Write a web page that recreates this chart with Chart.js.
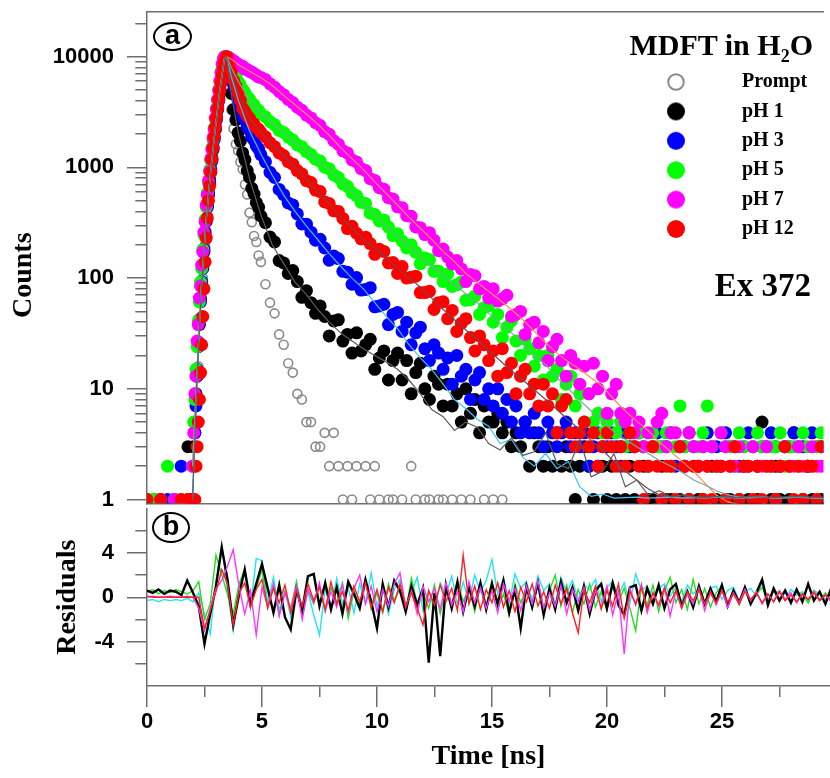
<!DOCTYPE html>
<html><head><meta charset="utf-8">
<script src="https://cdn.jsdelivr.net/npm/chart.js@4.4.1/dist/chart.umd.min.js"></script>
<style>
html,body{margin:0;padding:0;background:#fff;}
#wrap{position:relative;width:830px;height:778px;overflow:hidden;background:#fff;}
#wrap canvas{position:absolute;left:0;}
.tag{position:absolute;box-sizing:border-box;border:2px solid #000;border-radius:50%;display:flex;align-items:center;justify-content:center;font:bold 27px "Liberation Sans",Arial,sans-serif;line-height:1;color:#000;padding-bottom:2px;}
.note{position:absolute;font-family:"Liberation Serif","Times New Roman",serif;font-weight:bold;color:#000;white-space:nowrap;}
.note sub{font-size:18px;vertical-align:-7px;line-height:0;}
</style></head><body>
<div id="wrap">
<canvas id="cTop" width="830" height="510" style="top:0px"></canvas>
<canvas id="cBot" width="830" height="278" style="top:500px"></canvas>
<div class="tag" style="left:153px;top:22px;width:39px;height:29px;">a</div>
<div class="tag" style="left:152px;top:512px;width:38px;height:31px;">b</div>
<div class="note" style="right:17px;top:30px;font-size:30px;line-height:30px;">MDFT in H<sub>2</sub>O</div>
<div class="note" style="right:19px;top:269px;font-size:33px;line-height:33px;">Ex 372</div>
</div>
<script>
// ---------- time grids ----------
const timeNs = [0,0.3,0.6,0.9,1.2,1.5,1.8,
 2.0,2.05,2.1,2.15,2.2,2.25,2.3,2.35,2.4,2.45,2.5,2.55,2.6,2.65,2.7,2.75,2.8,2.85,2.9,2.95,3.0,3.05,3.1,3.15,3.2,3.25,3.3,3.35,3.4,3.45,3.5,
 3.6,3.7,3.8,3.9,4.0,4.1,4.2,4.3,4.4,4.5,4.6,4.7,4.8,4.9,5.0,
 5.2,5.4,5.6,5.8,6.0,6.2,6.4,6.6,6.8,7.0,
 7.2,7.4,7.6,7.8,8.0,8.2,8.4,8.6,8.8,9.0,
 9.2,9.4,9.6,9.8,10.0,10.2,10.4,10.6,10.8,11.0,
 11.2,11.4,11.6,11.8,12.0,12.2,12.4,12.6,12.8,13.0,
 13.2,13.4,13.6,13.8,14.0,14.2,14.4,14.6,14.8,15.0,
 15.2,15.4,15.6,15.8,16.0,16.2,16.4,16.6,16.8,17.0,
 17.2,17.4,17.6,17.8,18.0,18.2,18.4,18.6,18.8,19.0,
 19.2,19.4,19.6,19.8,20.0,20.2,20.4,20.6,20.8,21.0,
 21.2,21.4,21.6,21.8,22.0,22.2,22.4,22.6,22.8,23.0,
 23.2,23.4,23.6,23.8,24.0,24.2,24.4,24.6,24.8,25.0,
 25.2,25.4,25.6,25.8,26.0,26.2,26.4,26.6,26.8,27.0,
 27.2,27.4,27.6,27.8,28.0,28.2,28.4,28.6,28.8,29.0,
 29.2,29.4,29.6];

// ---------- decay counts (0 = empty channel, not drawn on log axis) ----------
const countsPrompt = [0,0,0,0,0,0,0,
 0,1,2,5,9,16,27,44,66,100,140,200,270,370,480,630,800,1010,1270,1580,1960,2430,3000,3690,4500,5450,6550,7700,8800,9600,10000,
 6300,3300,2240,1620,1410,1120,960,700,570,390,320,240,212,160,140,
 88,60,48,31,25,17,14,9,8,5,
 5,3,3,4,2,4,2,1,2,1,
 2,0,2,1,2,1,0,1,1,0,
 1,0,2,1,0,1,1,0,1,1,
 0,1,0,1,0,1,0,0,1,0,
 1,0,1];
const countsPH1 = [1,0,1,0,1,0,3,
 1,3,4,9,13,26,38,65,86,130,172,258,325,458,565,760,915,1200,1450,1860,2200,2810,3330,4130,4950,6100,7150,8600,9500,10000,8500,
 6240,4650,3340,2690,2050,1730,1350,1170,935,812,648,575,480,436,364,
 316,235,212,144,137,110,117,93,67,77,
 60,48,56,45,30,41,42,27,31,21,
 32,22,25,28,15,19,22,12,18,21,
 12,18,9,14,17,10,8,13,11,7,
 11,7,9,5,10,6,8,4,7,5,
 5,6,4,5,3,4,3,5,2,4,
 3,2,3,2,4,2,3,2,1,2,
 3,2,1,2,2,1,2,1,3,1,
 2,1,0,2,1,1,0,2,1,1,
 0,1,2,1,0,1,1,0,2,1,
 0,1,1,0,1,2,1,0,1,5,
 0,1,2,1,0,1,4,0,1,2,
 1,0,1];
const countsPH3 = [1,1,0,1,1,2,1,
 1,2,4,7,15,24,42,61,93,122,183,242,340,436,590,720,955,1140,1510,1780,2280,2700,3450,4000,5080,5920,7310,8400,9600,10000,9150,
 7880,6690,5560,4850,4010,3520,2910,2670,2310,2170,1880,1760,1560,1470,1300,
 1122,903,810,632,567,477,458,380,308,307,
 260,220,224,187,145,158,150,115,113,88,
 101,78,79,82,55,56,58,38,47,49,
 33,40,25,32,36,23,18,25,21,15,
 19,11,20,13,15,8,12,14,8,10,
 7,10,6,8,5,7,4,5,4,6,
 4,3,5,4,3,4,5,3,4,3,
 4,2,3,4,3,3,4,3,2,4,
 3,3,4,3,2,3,4,3,3,4,
 2,3,3,4,3,2,3,4,3,3,
 2,4,3,3,2,3,4,3,2,3,
 3,4,3,2,3,3,4,3,3,2,
 4,3,3];
const countsPH5 = [1,1,1,2,1,1,1,
 2,5,8,15,24,41,61,92,122,181,245,338,438,587,727,948,1160,1500,1790,2260,2720,3420,4030,5060,5950,7300,8450,9600,10000,9920,9700,
 8840,8010,7180,6680,5960,5560,5070,4730,4310,4130,3750,3680,3340,3280,3050,
 2860,2590,2430,2160,2070,1880,1765,1600,1535,1390,
 1310,1185,1140,1005,972,855,810,711,674,590,
 555,483,472,385,376,328,335,289,242,251,
 216,187,200,171,135,152,147,115,115,93,
 109,84,87,92,63,64,69,47,54,56,
 40,47,29,36,41,27,20,28,23,16,
 20,12,20,13,15,8,11,13,7,9,
 5,9,5,6,4,5,3,4,5,3,
 4,3,4,3,2,4,3,3,4,2,
 3,7,3,4,2,3,4,7,3,2,
 4,3,3,2,4,3,2,3,4,3,
 2,3,3,4,2,3,3,2,4,3,
 2,3,4];
const countsPH7 = [0,0,1,0,1,0,1,
 2,4,9,13,27,38,66,85,131,172,259,322,459,563,757,918,1196,1455,1850,2200,2790,3350,4110,4960,6080,7180,8590,9480,9960,10000,9900,
 9810,9480,9190,8850,8560,8270,8190,7700,7650,7360,7290,7010,6820,6550,6490,
 6210,5690,5300,4850,4520,4110,3850,3500,3280,2970,
 2800,2530,2390,2100,1990,1740,1620,1410,1350,1170,
 1120,975,935,790,762,655,635,533,518,440,
 433,366,361,290,285,247,257,220,177,183,
 155,134,144,121,93,108,105,80,84,66,
 80,62,65,70,45,47,50,31,38,40,
 26,33,18,24,28,18,13,20,17,11,
 16,9,17,10,13,6,9,11,6,5,
 6,4,5,3,4,3,5,6,3,4,
 4,3,2,4,3,2,3,2,3,2,
 4,3,2,2,3,2,2,3,2,2,
 3,2,1,2,3,2,2,3,2,2,
 3,2,2];
const countsPH12 = [1,0,1,0,0,1,1,
 1,0,1,2,3,5,8,14,25,45,80,140,230,350,500,680,900,1180,1500,1880,2300,2800,3400,4100,4900,5800,6800,7800,8800,9600,10000,
 8450,7310,6100,5420,4620,4020,3430,3190,2920,2780,2540,2470,2270,2210,2070,
 1890,1670,1540,1355,1280,1125,1070,935,872,758,
 730,624,604,488,472,405,400,346,280,294,
 254,226,234,205,164,182,174,137,138,110,
 127,100,102,104,74,74,76,52,60,61,
 43,51,33,39,43,29,22,30,25,18,
 22,13,23,14,17,9,13,15,9,11,
 7,11,7,9,4,7,8,4,3,4,
 5,3,4,2,3,4,3,2,3,2,
 4,3,2,1,2,3,2,1,2,2,
 1,3,2,1,2,2,1,2,1,2,
 2,1,2,3,1,2,2,1,2,1,
 2,2,1,2,3,2,1,2,1,2,
 2,1,3];

// ---------- fitted curves ----------
const fitTime = [2.0,2.2,2.4,2.6,2.8,3.0,3.2,3.4,3.5,3.7,
 4.0,4.5,5.0,5.5,6.0,6.5,7.0,7.5,8.0,8.5,
 9.0,9.5,10.0,10.5,11.0,11.5,12.0,12.5,13.0,13.5,
 14.0,14.5,15.0,15.5,16.0,16.5,17.0,17.5,18.0,18.5,
 19.0,19.5,20.0,20.5,21.0,21.5,22.0,22.5,23.0,23.5,
 24.0,24.5,25.0,25.5,26.0,26.5,27.0,27.5,28.0,28.5,
 29.0,29.5,30.0];
const fitPH1 = [1,14,90,330,930,2240,5000,9500,10000,4570,
 2090,794,372,200,135,92,71,52,40,32,
 27,23,20,17.5,15,12,9,6.5,5.6,4.2,
 5.0,4.5,3.2,2.8,3.6,2.5,2.7,4.0,2.1,1.9,
 3.5,1.6,1.8,2.6,1.3,1.5,1.1,1.2,1.05,1.1,
 1.05,1.04,1.06,1.05,1.04,1.06,1.05,1.04,1.05,1.06,
 1.05,1.04,1.05];
const fitPH3 = [1,14,90,330,930,2240,5000,9500,9800,6600,
 4070,2140,1320,850,562,400,295,222,166,128,
 100,80,60,45,35,25,19,15,11,8,
 6.6,5.3,4.6,3.2,3.5,2.4,2.0,2.6,1.9,2.2,
 1.3,1.07,1.12,1.03,1.04,1.05,1.03,1.04,1.05,1.03,
 1.04,1.03,1.05,1.04,1.03,1.04,1.05,1.03,1.04,1.05,
 1.04,1.03,1.04];
const fitPH5 = [2,15,95,340,950,2280,5100,9600,10000,8000,
 6000,4070,3100,2520,2040,1660,1410,1150,955,760,
 600,470,372,295,240,192,155,128,105,87,
 72,60,48,39,32,26,20,16.5,12.6,10,
 7.9,6.3,5,4.1,3.5,3.0,2.6,2.25,2.0,1.75,
 1.5,1.35,1.2,1.1,1.05,1.04,1.05,1.04,1.03,1.05,
 1.04,1.03,1.03];
const fitPH7 = [2,15,95,340,950,2280,5100,9600,10000,9500,
 8500,7400,6460,5500,4470,3680,3020,2460,1950,1510,
 1200,955,741,580,457,355,282,224,174,141,
 110,91,76,63,52,42,33,26,21,17.5,
 15,12.5,10.5,8,6.3,5.1,4.2,3.3,2.7,2.2,
 1.8,1.4,1.1,0.95,0.9,0.9,0.9,0.9,0.9,0.9,
 0.9,0.9,0.9];
const fitPH12 = [1,12,80,300,880,2150,4900,9300,10000,7240,
 4670,2750,2090,1590,1260,1000,776,600,468,355,
 282,224,186,152,123,100,83,66,52,42,
 34,28,22,18,14.5,12,9.8,8,6.5,5.2,
 4.3,3.4,2.8,2.2,1.8,1.5,1.25,1.1,1.05,1.04,
 1.06,1.05,1.04,1.05,1.06,1.04,1.05,1.04,1.05,1.06,
 1.05,1.04,1.05];

// ---------- residuals ----------
const residTime = [0,0.25,0.5,0.75,1,1.25,1.5,1.75,2,2.25,
 2.5,2.75,3,3.25,3.5,3.75,4,4.25,4.5,4.75,
 5,5.25,5.5,5.75,6,6.25,6.5,6.75,7,7.25,
 7.5,7.75,8,8.25,8.5,8.75,9,9.25,9.5,9.75,
 10,10.25,10.5,10.75,11,11.25,11.5,11.75,12,12.25,
 12.5,12.75,13,13.25,13.5,13.75,14,14.25,14.5,14.75,
 15,15.25,15.5,15.75,16,16.25,16.5,16.75,17,17.25,
 17.5,17.75,18,18.25,18.5,18.75,19,19.25,19.5,19.75,
 20,20.25,20.5,20.75,21,21.25,21.5,21.75,22,22.25,
 22.5,22.75,23,23.25,23.5,23.75,24,24.25,24.5,24.75,
 25,25.25,25.5,25.75,26,26.25,26.5,26.75,27,27.25,
 27.5,27.75,28,28.25,28.5,28.75,29,29.25,29.5,29.75];
const residPH1 = [0.6,0.4,0.7,0.3,0.6,0.5,0.2,1.5,0.4,-0.8,
 -4.2,-1.5,1.0,4.5,1.6,-2.5,0.2,2.5,-0.6,1.2,
 3.0,0.8,-1.4,1.1,-1.8,-2.9,0.7,-1.2,1.9,2.1,
 -0.8,1.3,-1.1,0.9,-1.5,1.4,0.3,-1.0,1.6,-0.4,
 -2.8,1.2,-0.9,1.5,0.6,-1.3,1.0,-0.7,0.8,-5.9,
 0.4,-5.3,1.1,-1.0,1.4,-1.3,0.9,-0.8,1.3,-1.1,
 1.2,-0.6,1.5,-1.4,0.7,-2.8,1.0,-0.9,1.3,-1.6,
 0.8,-1.1,1.4,-0.5,0.9,-1.2,1.0,-1.5,0.6,1.2,
 -1.0,1.3,-0.7,-1.6,0.9,1.1,-1.2,0.8,-0.6,1.1,
 -1.0,0.7,1.2,-0.8,0.5,-0.9,1.0,-0.6,0.8,-0.4,
 1.1,-0.8,0.6,-0.5,0.9,-0.6,0.4,1.6,-0.7,0.8,
 -0.3,0.6,-0.5,0.7,-0.4,1.2,-0.3,0.5,-0.6,0.8];
const residPH3 = [-0.3,-0.2,-0.4,-0.2,-0.3,-0.2,-0.3,-0.1,-0.4,0.4,
 -1.5,-3.3,1.5,4.8,0.5,-3.0,1.0,2.2,-1.0,3.5,
 3.3,-0.5,1.8,-1.2,0.6,-1.8,1.3,-0.9,0.5,-1.6,
 -3.4,0.8,-1.0,1.7,-0.6,0.9,-1.4,1.2,-0.5,2.2,
 -0.8,1.0,-1.5,0.7,1.6,-0.9,0.4,1.8,-1.2,0.6,
 -1.1,1.3,0.2,1.9,-0.7,1.4,-0.4,2.0,0.5,1.5,
 3.4,0.3,1.7,-0.5,2.1,0.8,1.4,-0.3,1.9,0.6,
 1.2,-0.6,1.8,0.4,1.5,-0.2,1.1,0.7,1.6,-0.4,
 0.9,1.4,0.2,1.3,-0.5,2.1,0.6,1.0,-0.3,0.8,
 1.2,0.1,0.9,-0.4,1.1,0.3,0.7,-0.5,0.8,1.0,
 -0.2,0.6,0.9,-0.3,0.5,0.8,0.1,1.3,-0.2,0.6,
 0.4,-0.3,0.7,0.2,0.5,-0.4,0.6,0.3,-0.2,0.4];
const residPH5 = [0.5,0.7,0.3,0.6,0.4,0.7,0.5,0.3,0.6,1.4,
 -2.0,-0.6,3.8,2.0,0.3,-1.5,1.2,2.5,-0.4,0.8,
 2.5,-0.9,1.1,-1.6,0.5,-1.0,1.4,-1.8,0.7,-0.6,
 1.0,-1.3,0.9,-0.5,1.3,-1.9,0.6,-0.8,1.5,-1.1,
 0.4,-1.4,1.2,-0.3,0.8,-1.2,1.7,-0.6,0.5,-1.0,
 1.1,-1.5,0.6,-0.8,1.4,-0.4,0.9,-1.3,1.0,-0.7,
 1.5,-1.1,0.3,-1.6,1.2,-0.5,0.8,-1.0,1.3,-0.9,
 0.6,2.0,-0.8,1.1,-1.4,0.7,-0.6,1.2,-0.9,0.5,
 -1.2,1.0,-0.4,0.8,-1.0,-3.0,0.9,-0.7,1.1,-1.3,
 0.6,1.8,-0.5,0.7,-1.1,1.6,-0.6,0.8,-0.9,0.4,
 1.0,-0.7,0.5,-0.4,0.8,-0.6,0.3,0.9,-0.5,0.6,
 -0.3,0.7,-0.4,0.5,0.2,-0.5,0.6,-0.2,0.4,-0.3];
const residPH7 = [0.0,0.1,0.0,0.0,0.1,0.0,0.0,0.1,0.0,-1.0,
 -3.0,-1.0,0.8,1.5,2.8,4.3,1.0,-1.5,0.6,-3.4,
 0.9,-0.8,1.2,-1.7,0.4,-1.1,1.0,-2.0,0.7,-0.5,
 1.3,-1.2,0.5,-0.9,1.1,-1.4,0.8,2.0,-0.6,1.0,
 -1.3,0.7,-0.8,1.2,2.2,-0.9,0.6,-1.5,1.0,-0.4,
 0.8,-1.1,1.3,-0.7,0.5,-1.3,1.4,-0.5,0.9,-1.0,
 0.6,-1.4,1.2,-0.3,0.8,-1.2,1.0,-0.6,1.5,-1.0,
 0.4,-0.8,1.1,-1.5,0.7,-0.4,0.9,-1.2,0.6,-0.9,
 1.0,-1.6,0.5,-5.1,0.8,-0.7,1.2,-1.4,0.4,-0.8,
 0.9,-1.7,0.6,-1.0,0.3,-0.6,0.8,-1.2,0.5,-0.7,
 0.6,-0.9,0.4,-0.5,0.7,-0.3,0.5,-0.6,0.3,-0.4,
 0.6,-0.2,0.4,-0.5,0.3,-0.2,0.5,-0.3,0.2,-0.4];
const residPH12 = [0.1,0.0,0.0,0.0,0.0,0.0,0.0,0.0,0.0,0.0,
 -2.8,-1.2,0.5,2.5,1.2,-2.5,0.4,1.3,-0.9,0.7,
 1.6,-1.0,0.8,-0.5,1.1,-1.4,0.6,-0.8,1.2,-0.3,
 0.9,-1.1,1.4,-0.6,0.5,-1.2,1.0,-0.4,1.3,-0.9,
 0.7,-1.3,0.9,-0.5,1.2,-0.8,0.4,-1.0,-2.5,0.6,
 -0.7,1.1,-0.4,0.8,-1.2,3.8,-0.6,1.0,-1.1,0.7,
 -0.5,1.3,-0.9,0.6,-1.3,0.9,-0.4,1.2,-0.8,0.5,
 -1.0,1.1,-0.6,0.8,-1.4,-3.2,0.7,-0.5,1.0,-1.1,
 0.6,-0.8,1.2,-1.9,0.5,-0.6,0.9,-1.0,0.4,-0.7,
 0.8,-0.5,0.6,-0.9,0.5,-0.3,0.7,-0.6,0.4,-0.5,
 0.6,-0.4,0.3,-0.6,0.5,-0.2,0.4,-0.5,0.3,-0.4,
 0.5,-0.3,0.2,-0.4,0.3,-0.2,0.4,-0.3,0.2,-0.2];

// ---------- ticks / labels ----------
const countTicks = [1,2,3,4,5,6,7,8,9,10,20,30,40,50,60,70,80,90,100,200,300,400,500,600,700,800,900,1000,2000,3000,4000,5000,6000,7000,8000,9000,10000,20000];
const countTickLabels = [1,10,100,1000,10000];
const residTicks = [-6,-4,-2,0,2,4,6];
const residTickLabels = [-4,0,4];
const timeTicks = [0,2.5,5,7.5,10,12.5,15,17.5,20,22.5,25,27.5];
const timeTickLabels = [0,5,10,15,20,25];
const legendNames = ['Prompt','pH 1','pH 3','pH 5','pH 7','pH 12'];

// ---------- styling ----------
const xMax = 29.7;
const axisColor = '#6e6e6e';
const tickFont = {family: 'Liberation Sans', weight: 'bold', size: 22};
const titleFont = {family: 'Liberation Serif', weight: 'bold', size: 28};

function toPoints(xs, ys, dropZero) {
  return ys.map((v, i) => ({x: xs[i], y: (dropZero && !(v > 0)) ? null : v}));
}
function markerImg(fill, stroke) {
  const c = document.createElement('canvas');
  c.width = 20; c.height = 20;
  const g = c.getContext('2d');
  g.beginPath();
  g.arc(10, 10, stroke ? 7.8 : 9, 0, Math.PI * 2);
  g.fillStyle = fill; g.fill();
  if (stroke) { g.lineWidth = 2; g.strokeStyle = stroke; g.stroke(); }
  return c;
}

const countSpecs = [
  {label: 'Prompt', ys: countsPrompt, fill: 'rgba(255,255,255,0)', stroke: '#8a8a8a', r: 4.5, bw: 1.6, order: 6},
  {label: 'pH 1', ys: countsPH1, fill: '#000000', r: 6.5, order: 5},
  {label: 'pH 3', ys: countsPH3, fill: '#0000ff', r: 6.5, order: 4},
  {label: 'pH 5', ys: countsPH5, fill: '#00ff00', r: 6.5, order: 3},
  {label: 'pH 7', ys: countsPH7, fill: '#ff00ff', r: 6.5, order: 2},
  {label: 'pH 12', ys: countsPH12, fill: '#ff0000', r: 6.5, order: 1}
];
const fitSpecs = [
  {label: 'fit pH 1', ys: fitPH1, color: '#5c5c5c'},
  {label: 'fit pH 3', ys: fitPH3, color: '#38c6f4'},
  {label: 'fit pH 5', ys: fitPH5, color: '#7fa3a3'},
  {label: 'fit pH 7', ys: fitPH7, color: '#ff9050'},
  {label: 'fit pH 12', ys: fitPH12, color: '#6e4b4b'}
];
const legendMarkers = [
  markerImg('#ffffff', '#8a8a8a'), markerImg('#000000'), markerImg('#0000ff'),
  markerImg('#00ff00'), markerImg('#ff00ff'), markerImg('#ff0000')
];

const topDatasets = [];
fitSpecs.forEach(f => topDatasets.push({
  type: 'line', label: f.label, data: toPoints(fitTime, f.ys, true),
  borderColor: f.color, borderWidth: 1.2, pointRadius: 0, fill: false, tension: 0, order: 0
}));
countSpecs.forEach(s => topDatasets.push({
  type: 'scatter', label: s.label, data: toPoints(timeNs, s.ys, true), showLine: false,
  pointRadius: s.r, pointHoverRadius: s.r, pointBackgroundColor: s.fill,
  pointBorderColor: s.stroke || s.fill, pointBorderWidth: s.bw || 0, order: s.order
}));

const legendPlacer = {
  id: 'legendPlacer',
  afterLayout(chart) {
    const lg = chart.legend;
    if (!lg) return;
    lg.left = 610.6; lg.right = 830; lg.top = 62.6; lg.bottom = 300;
    lg.width = lg.right - lg.left; lg.height = lg.bottom - lg.top;
  }
};

new Chart(document.getElementById('cTop'), {
  type: 'scatter',
  data: {datasets: topDatasets},
  options: {
    responsive: false, animation: false, devicePixelRatio: 1, events: [],
    layout: {padding: {top: 12, bottom: 3, left: 0, right: 0}},
    plugins: {
      tooltip: {enabled: false},
      legend: {
        display: true, position: 'chartArea', align: 'start',
        labels: {
          usePointStyle: true, pointStyleWidth: 112, padding: 9.4, color: '#000',
          font: {family: 'Liberation Serif', weight: 'bold', size: 20},
          generateLabels: () => legendNames.map((name, k) => ({
            text: name, pointStyle: legendMarkers[k], fillStyle: '#000', strokeStyle: '#000',
            lineWidth: 0, hidden: false, fontColor: '#000', textAlign: 'left', datasetIndex: 5 + k
          }))
        }
      }
    },
    scales: {
      x: {
        type: 'linear', position: 'bottom', min: 0, max: xMax,
        ticks: {display: false}, grid: {display: false, drawTicks: false},
        border: {display: true, color: axisColor, width: 1.5},
        afterFit: s => { s.height = 0; s.paddingLeft = 0; s.paddingRight = 0; }
      },
      xTop: {
        axis: 'x', type: 'linear', position: 'top', min: 0, max: xMax,
        ticks: {display: false}, grid: {display: false, drawTicks: false},
        border: {display: true, color: axisColor, width: 1.5},
        afterFit: s => { s.height = 0; s.paddingLeft = 0; s.paddingRight = 0; }
      },
      y: {
        type: 'logarithmic', position: 'left', min: 0.92, max: 25330,
        afterBuildTicks: s => { s.ticks = countTicks.map(v => ({value: v})); },
        ticks: {
          autoSkip: false, padding: 13, color: '#000', font: tickFont,
          callback: v => countTickLabels.includes(v) ? String(v) : ''
        },
        grid: {
          drawOnChartArea: false, drawTicks: true, tickLength: 20, tickWidth: 1.5, lineWidth: 1.5,
          tickColor: axisColor,
          tickBorderDash: c => (c.tick && countTickLabels.includes(c.tick.value)) ? [] : [0, 8.3, 12, 0]
        },
        border: {display: true, color: axisColor, width: 1.5},
        title: {display: true, text: 'Counts     ', color: '#000', font: titleFont, padding: {top: 7, bottom: 0}},
        afterFit: s => { s.width = 147; s.paddingTop = 0; s.paddingBottom = 0; }
      }
    }
  },
  plugins: [legendPlacer]
});

const residSpecs = [
  {label: 'residual pH 12', ys: residPH12, color: '#ff2020', w: 1.4, order: 0},
  {label: 'residual pH 7', ys: residPH7, color: '#ff33ff', w: 1.4, order: 1},
  {label: 'residual pH 1', ys: residPH1, color: '#000000', w: 2.4, order: 2},
  {label: 'residual pH 5', ys: residPH5, color: '#22dd22', w: 1.4, order: 3},
  {label: 'residual pH 3', ys: residPH3, color: '#22e5f0', w: 1.4, order: 4}
];

new Chart(document.getElementById('cBot'), {
  type: 'line',
  data: {datasets: residSpecs.map(s => ({
    label: s.label, data: toPoints(residTime, s.ys, false), borderColor: s.color,
    borderWidth: s.w, pointRadius: 0, fill: false, tension: 0, order: s.order
  }))},
  options: {
    responsive: false, animation: false, devicePixelRatio: 1, events: [],
    layout: {padding: {top: 8.5, bottom: 0, left: 0, right: 0}},
    plugins: {legend: {display: false}, tooltip: {enabled: false}},
    scales: {
      x: {
        type: 'linear', position: 'bottom', min: 0, max: xMax,
        afterBuildTicks: s => { s.ticks = timeTicks.map(v => ({value: v})); },
        ticks: {
          autoSkip: false, maxRotation: 0, padding: 2, color: '#000', font: tickFont,
          callback: v => timeTickLabels.includes(v) ? String(v) : ''
        },
        grid: {
          drawOnChartArea: false, drawTicks: true, tickLength: 21, tickWidth: 1.5, lineWidth: 1.5,
          tickColor: axisColor,
          tickBorderDash: c => (c.tick && timeTickLabels.includes(c.tick.value)) ? [] : [10.5, 20]
        },
        border: {display: true, color: axisColor, width: 1.5},
        title: {display: true, text: 'Time [ns]', color: '#000', font: titleFont, padding: {top: 0, bottom: 4}},
        afterFit: s => { s.height = 92; s.paddingLeft = 0; s.paddingRight = 0; }
      },
      y: {
        type: 'linear', position: 'left', min: -8, max: 8,
        afterBuildTicks: s => { s.ticks = residTicks.map(v => ({value: v})); },
        ticks: {
          autoSkip: false, padding: 13, color: '#000', font: tickFont,
          callback: v => residTickLabels.includes(v) ? String(v) : ''
        },
        grid: {
          drawOnChartArea: false, drawTicks: true, tickLength: 20, tickWidth: 1.5, lineWidth: 1.5,
          tickColor: axisColor,
          tickBorderDash: c => (c.tick && residTickLabels.includes(c.tick.value)) ? [] : [0, 8.3, 12, 0]
        },
        border: {display: true, color: axisColor, width: 1.5},
        title: {display: true, text: 'Residuals', color: '#000', font: titleFont, padding: {top: 51, bottom: 0}},
        afterFit: s => { s.width = 147; s.paddingTop = 0; s.paddingBottom = 0; }
      }
    }
  }
});
</script>
</body></html>
